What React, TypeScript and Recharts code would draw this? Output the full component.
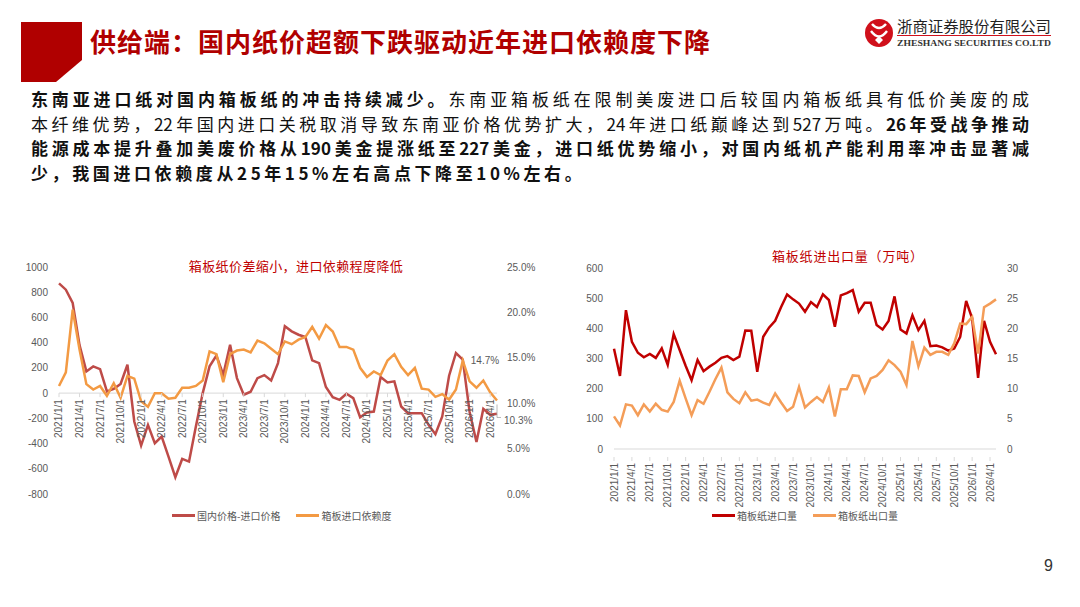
import { LineChart, Line, XAxis, YAxis, ReferenceLine, Legend } from 'recharts';

// monthly categories, 2021/1 .. 2026/5
const months = [
  '2021/1/1', '2021/2/1', '2021/3/1', '2021/4/1', '2021/5/1', '2021/6/1', '2021/7/1', '2021/8/1', '2021/9/1', '2021/10/1', '2021/11/1', '2021/12/1',
  '2022/1/1', '2022/2/1', '2022/3/1', '2022/4/1', '2022/5/1', '2022/6/1', '2022/7/1', '2022/8/1', '2022/9/1', '2022/10/1', '2022/11/1', '2022/12/1',
  '2023/1/1', '2023/2/1', '2023/3/1', '2023/4/1', '2023/5/1', '2023/6/1', '2023/7/1', '2023/8/1', '2023/9/1', '2023/10/1', '2023/11/1', '2023/12/1',
  '2024/1/1', '2024/2/1', '2024/3/1', '2024/4/1', '2024/5/1', '2024/6/1', '2024/7/1', '2024/8/1', '2024/9/1', '2024/10/1', '2024/11/1', '2024/12/1',
  '2025/1/1', '2025/2/1', '2025/3/1', '2025/4/1', '2025/5/1', '2025/6/1', '2025/7/1', '2025/8/1', '2025/9/1', '2025/10/1', '2025/11/1', '2025/12/1',
  '2026/1/1', '2026/2/1', '2026/3/1', '2026/4/1', '2026/5/1',
];

// 国内价格-进口价格 (元/吨)
const priceGap = [
  870, 820, 715, 380, 172, 212, 190, 13, 34, 72,
  225, -225, -416, -252, -397, -344, -503, -667, -522, -543,
  -265, 0, 212, 297, 146, 384, 119, -13, 11, 119,
  143, 100, 238, 530, 490, 463, 445, 260, 238, 48,
  -32, -53, -5, -40, -191, -154, -146, 127, 85, 93,
  -106, -159, -159, -159, -252, -326, -185, 138, 318, 265,
  -150, -388, -125, -172, -163,
];

// 箱板进口依赖度 (%)
const importDependence = [
  11.9, 13.4, 20.3, 15.9, 12.1, 11.5, 11.9, 10.8, 12.2, 10.6,
  13.0, 12.7, 10.2, 9.6, 11.1, 11.1, 10.5, 10.6, 11.7, 11.7,
  11.9, 12.5, 15.7, 15.4, 12.3, 15.4, 15.8, 15.9, 15.6, 16.9,
  16.6, 16.0, 15.4, 16.8, 16.5, 17.0, 17.3, 18.4, 17.1, 18.6,
  17.9, 16.2, 16.2, 15.9, 13.9, 12.9, 13.5, 13.1, 14.7, 15.4,
  14.0, 13.1, 13.9, 11.6, 11.5, 10.7, 11.0, 10.4, 11.5, 14.7,
  12.4, 11.7, 12.5, 11.2, 10.3,
];

// 箱板纸进口量 (万吨, left axis x10 scale)
const boardImports = [
  332, 242, 460, 355, 319, 304, 315, 302, 334, 279,
  381, 328, 276, 228, 295, 258, 273, 286, 302, 308,
  295, 306, 393, 392, 256, 372, 403, 425, 471, 512,
  496, 482, 455, 487, 471, 513, 494, 405, 509, 517,
  527, 455, 485, 485, 411, 396, 424, 506, 396, 383,
  443, 394, 425, 341, 343, 337, 326, 333, 372, 491,
  433, 236, 425, 355, 314,
];

// 箱板纸出口量 (万吨, right axis)
const boardExports = [
  5.4, 3.9, 7.4, 7.2, 5.6, 7.4, 6.2, 7.5, 6.5, 6.2,
  7.8, 11.3, 8.4, 5.6, 8.1, 7.5, 9.5, 11.6, 13.5, 9.4,
  8.3, 7.6, 9.4, 8.0, 8.2, 7.7, 7.3, 9.2, 7.7, 6.3,
  7.0, 10.3, 6.9, 7.8, 8.6, 7.8, 10.2, 5.4, 9.9, 9.9,
  12.2, 12.1, 9.4, 11.7, 12.1, 13.1, 14.7, 13.9, 12.8, 10.6,
  17.9, 13.7, 16.8, 15.6, 16.1, 16.1, 15.6, 17.5, 20.8, 20.7,
  21.9, 15.8, 23.5, 24.1, 24.8,
];

const gapTicks = [-800, -600, -400, -200, 0, 200, 400, 600, 800, 1000];
const depTicks = [0, 5, 10, 15, 20, 25];
const volumeTicks = [0, 100, 200, 300, 400, 500, 600];
const exportTicks = [0, 5, 10, 15, 20, 25, 30];

const leftData = months.map((month, i) => ({ month, gap: priceGap[i], dep: importDependence[i] }));
const rightData = months.map((month, i) => ({ month, imp: boardImports[i], exp: boardExports[i] }));

const AXIS_FONT = '"Liberation Sans", Arial, sans-serif';
const CJK_FONT = '"Noto Sans CJK SC", "Noto Sans", sans-serif';
const AXIS_COLOR = '#595959';
const LINE_GRID = '#D9D9D9';

const LEFT_RED = '#BE4B48';
const LEFT_ORANGE = '#F39A43';
const RIGHT_RED = '#C00000';
const RIGHT_ORANGE = '#F49D58';

const CHART_W = 540;
const CHART_H = 300;

// left chart geometry
const L_MARGIN = { top: 27, right: 3, bottom: 36, left: 9 };
const L_XAXIS_H = 10;
const L_PLOT_H = CHART_H - L_MARGIN.top - L_MARGIN.bottom - L_XAXIS_H;
const L_MIN = gapTicks[0];
const L_MAX = gapTicks[gapTicks.length - 1];
const L_ZERO_Y = L_MARGIN.top + (L_PLOT_H * L_MAX) / (L_MAX - L_MIN);

function RotatedTick(props: any) {
  const { x, y, payload, baseY } = props;
  const y0 = baseY ?? y;
  return (
    <g>
      <line x1={x} x2={x} y1={y0} y2={y0 + 4} stroke={LINE_GRID} strokeWidth={1} />
      <text
        x={x}
        y={y0 + 6}
        transform={`rotate(-90, ${x}, ${y0 + 6})`}
        textAnchor="end"
        dominantBaseline="central"
        fontSize={10}
        fontFamily={AXIS_FONT}
        fill={AXIS_COLOR}
      >
        {payload.value}
      </text>
    </g>
  );
}

function renderDepLabel(props: any) {
  const { x, y, index, value } = props;
  if (index === 59) {
    return (
      <text key="l59" x={x + 8} y={y} dominantBaseline="central" fontSize={10} fontFamily={AXIS_FONT} fill={AXIS_COLOR}>
        {`${Number(value).toFixed(1)}%`}
      </text>
    );
  }
  if (index === months.length - 1) {
    return (
      <g key="llast">
        <polyline
          points={`${x},${y + 4} ${x},${y + 17} ${x + 4},${y + 17}`}
          fill="none"
          stroke="#A6A6A6"
          strokeWidth={0.8}
        />
        <text x={x + 7} y={y + 20} dominantBaseline="central" fontSize={10} fontFamily={AXIS_FONT} fill={AXIS_COLOR}>
          {`${Number(value).toFixed(1)}%`}
        </text>
      </g>
    );
  }
  return null;
}

function LegendRow({ items }: { items: { label: string; color: string }[] }) {
  return (
    <div style={{ display: 'flex', alignItems: 'center', marginLeft: 172, fontFamily: CJK_FONT, fontSize: 10, color: AXIS_COLOR }}>
      {items.map((it) => (
        <div key={it.label} style={{ display: 'flex', alignItems: 'center', marginRight: 16 }}>
          <span style={{ display: 'inline-block', width: 23, height: 3, background: it.color, marginRight: 2 }} />
          <span>{it.label}</span>
        </div>
      ))}
    </div>
  );
}

function Logo() {
  return (
    <svg width={200} height={50} style={{ position: 'absolute', left: 860, top: 12 }}>
      <circle cx={19} cy={21} r={14} fill="#D0101B" />
      <path d="M12 12 Q19 20 26 12" stroke="#fff" strokeWidth={2.4} fill="none" />
      <path d="M11 19 Q19 30 27 19" stroke="#fff" strokeWidth={2.4} fill="none" />
      <path d="M15 28 L19 24 L23 28 L19 32 Z" fill="#fff" />
      <text x={37} y={20} fontSize={15} fontFamily={CJK_FONT} fill="#222" textLength={154} lengthAdjust="spacingAndGlyphs">
        浙商证券股份有限公司
      </text>
      <line x1={37} x2={191} y1={23.5} y2={23.5} stroke="#D0101B" strokeWidth={1} />
      <text x={37} y={34} fontSize={9} fontWeight={700} fontFamily='"Liberation Serif", serif' fill="#333" textLength={154} lengthAdjust="spacingAndGlyphs">
        ZHESHANG SECURITIES CO.LTD
      </text>
    </svg>
  );
}

const bodyLine: React.CSSProperties = {
  textAlign: 'justify',
  textAlignLast: 'justify',
  whiteSpace: 'nowrap',
  height: 24.6,
};

export default function App() {
  return (
    <div style={{ position: 'absolute', left: 0, top: 0, width: 1080, height: 607, background: '#fff', overflow: 'hidden', fontFamily: CJK_FONT }}>
      {/* header */}
      <svg width={70} height={70} style={{ position: 'absolute', left: 15, top: 16 }}>
        <polygon points="6,6 67,6 67,44 41,66 6,66" fill="#B00000" />
      </svg>
      <div style={{ position: 'absolute', left: 90, top: 22, fontSize: 26, fontWeight: 700, color: '#B00000', letterSpacing: 1 }}>
        供给端：国内纸价超额下跌驱动近年进口依赖度下降
      </div>
      <Logo />

      {/* body text */}
      <div style={{ position: 'absolute', left: 31, top: 87, width: 998, fontSize: 17, lineHeight: '24.6px', color: '#111' }}>
        <div style={bodyLine}>
          <b>东南亚进口纸对国内箱板纸的冲击持续减少。</b>东南亚箱板纸在限制美废进口后较国内箱板纸具有低价美废的成
        </div>
        <div style={bodyLine}>
          本纤维优势，22年国内进口关税取消导致东南亚价格优势扩大，24年进口纸巅峰达到527万吨。<b>26年受战争推动</b>
        </div>
        <div style={{ ...bodyLine, fontWeight: 700 }}>
          能源成本提升叠加美废价格从190美金提涨纸至227美金，进口纸优势缩小，对国内纸机产能利用率冲击显著减
        </div>
        <div style={{ fontWeight: 700, letterSpacing: 3.6, whiteSpace: 'nowrap' }}>
          少，我国进口依赖度从25年15%左右高点下降至10%左右。
        </div>
      </div>

      {/* chart titles */}
      <div style={{ position: 'absolute', left: 0, width: 592, top: 256, textAlign: 'center', fontSize: 13, color: '#C00000', letterSpacing: 0.4 }}>
        箱板纸价差缩小，进口依赖程度降低
      </div>
      <div style={{ position: 'absolute', left: 772, top: 246, fontSize: 13, color: '#C00000', letterSpacing: 0.8 }}>
        箱板纸进出口量（万吨）
      </div>

      {/* left chart */}
      <div style={{ position: 'absolute', left: 0, top: 240 }}>
        <LineChart width={CHART_W} height={CHART_H} data={leftData} margin={L_MARGIN}>
          <XAxis
            dataKey="month"
            height={L_XAXIS_H}
            axisLine={false}
            tickLine={false}
            interval={2}
            tick={<RotatedTick baseY={L_ZERO_Y} />}
          />
          <YAxis
            yAxisId="gap"
            width={50}
            domain={[L_MIN, L_MAX]}
            ticks={gapTicks}
            axisLine={false}
            tickLine={false}
            tickMargin={5}
            tick={{ fontSize: 10, fill: AXIS_COLOR, fontFamily: AXIS_FONT }}
          />
          <YAxis
            yAxisId="dep"
            orientation="right"
            width={40}
            domain={[0, 25]}
            ticks={depTicks}
            axisLine={false}
            tickLine={false}
            tickMargin={4}
            tickFormatter={(v: number) => `${v.toFixed(1)}%`}
            tick={{ fontSize: 10, fill: AXIS_COLOR, fontFamily: AXIS_FONT }}
          />
          <ReferenceLine yAxisId="gap" y={0} stroke={LINE_GRID} strokeWidth={1} />
          <Line yAxisId="gap" dataKey="gap" name="国内价格-进口价格" stroke={LEFT_RED} strokeWidth={2.5} dot={false} isAnimationActive={false} />
          <Line
            yAxisId="dep"
            dataKey="dep"
            name="箱板进口依赖度"
            stroke={LEFT_ORANGE}
            strokeWidth={2.5}
            dot={false}
            isAnimationActive={false}
            label={renderDepLabel}
          />
          <Legend
            verticalAlign="middle"
            align="center"
            wrapperStyle={{ top: 268, left: 0, width: CHART_W }}
            content={() => (
              <LegendRow items={[{ label: '国内价格-进口价格', color: LEFT_RED }, { label: '箱板进口依赖度', color: LEFT_ORANGE }]} />
            )}
          />
        </LineChart>
      </div>

      {/* right chart */}
      <div style={{ position: 'absolute', left: 540, top: 240 }}>
        <LineChart width={CHART_W} height={CHART_H} data={rightData} margin={{ top: 28, right: 44, bottom: 31, left: 4 }}>
          <XAxis
            dataKey="month"
            height={60}
            axisLine={{ stroke: LINE_GRID }}
            tickLine={false}
            interval={2}
            tick={<RotatedTick />}
          />
          <YAxis
            yAxisId="imp"
            width={70}
            domain={[0, 600]}
            ticks={volumeTicks}
            axisLine={false}
            tickLine={false}
            tickMargin={5}
            tick={{ fontSize: 10, fill: AXIS_COLOR, fontFamily: AXIS_FONT }}
          />
          <YAxis
            yAxisId="exp"
            orientation="right"
            width={40}
            domain={[0, 30]}
            ticks={exportTicks}
            axisLine={false}
            tickLine={false}
            tickMargin={5}
            tick={{ fontSize: 10, fill: AXIS_COLOR, fontFamily: AXIS_FONT, textAnchor: 'start' }}
          />
          <Line yAxisId="imp" dataKey="imp" name="箱板纸进口量" stroke={RIGHT_RED} strokeWidth={2.5} dot={false} isAnimationActive={false} />
          <Line yAxisId="exp" dataKey="exp" name="箱板纸出口量" stroke={RIGHT_ORANGE} strokeWidth={2.5} dot={false} isAnimationActive={false} />
          <Legend
            verticalAlign="middle"
            align="center"
            wrapperStyle={{ top: 268, left: 0, width: CHART_W }}
            content={() => (
              <LegendRow items={[{ label: '箱板纸进口量', color: RIGHT_RED }, { label: '箱板纸出口量', color: RIGHT_ORANGE }]} />
            )}
          />
        </LineChart>
      </div>

      <div style={{ position: 'absolute', left: 1044, top: 557, fontSize: 16, fontFamily: AXIS_FONT, color: '#333' }}>9</div>
    </div>
  );
}
